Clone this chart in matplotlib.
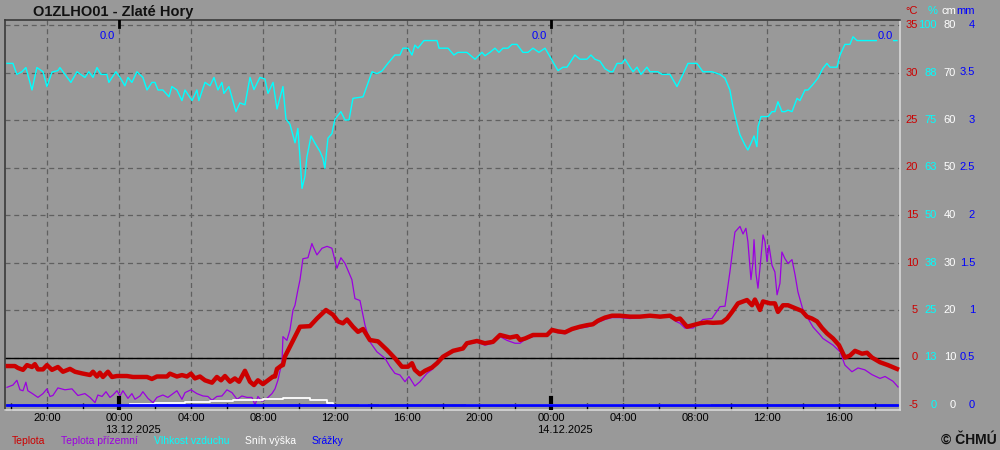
import numpy as np
import pandas as pd
import matplotlib
matplotlib.use("Agg")
import matplotlib.pyplot as plt
import matplotlib.dates as mdates
from matplotlib.lines import Line2D
from matplotlib.transforms import blended_transform_factory

plt.rcParams['font.family'] = ['Liberation Sans', 'DejaVu Sans']

# station / time frame
station = "O1ZLHO01 - Zlaté Hory"
t0 = pd.Timestamp("2025-12-13 00:00")
day_starts = ["2025-12-13", "2025-12-14"]

# (hours from 13.12.2025 00:00, value)
temp_pts = [
    (-6.17, -0.9), (-5.78, -0.9), (-5.61, -1.1), (-5.33, -1.3), (-5.11, -0.8), (-4.83, -1.0),
    (-4.67, -0.7), (-4.5, -1.25), (-4.22, -1.25), (-4.0, -0.8), (-3.72, -1.3), (-3.39, -1.0),
    (-3.11, -1.5), (-2.72, -1.2), (-2.44, -1.5), (-2.06, -1.67), (-1.61, -1.84), (-1.44, -1.5),
    (-1.22, -2.0), (-1.06, -1.6), (-0.89, -2.05), (-0.61, -1.5), (-0.39, -2.05), (-0.11, -1.95),
    (0.44, -1.95), (0.78, -2.05), (1.56, -2.05), (1.83, -2.26), (2.11, -2.0), (2.67, -2.0),
    (2.83, -1.7), (3.22, -2.0), (3.5, -1.85), (3.78, -2.0), (4.0, -1.7), (4.22, -2.2),
    (4.5, -2.0), (4.78, -2.4), (5.17, -2.65), (5.44, -2.05), (5.67, -2.4), (5.89, -1.95),
    (6.17, -2.55), (6.44, -2.2), (6.67, -2.55), (7.0, -1.4), (7.28, -2.55), (7.5, -2.9),
    (7.72, -2.4), (8.0, -2.8), (8.28, -2.4), (8.56, -2.0), (8.67, -2.0), (8.78, -1.2),
    (9.06, -0.8), (9.11, -0.8), (9.22, 0.1), (9.5, 1.14), (9.78, 2.2), (10.06, 3.24),
    (10.61, 3.3), (11.0, 4.1), (11.5, 5.0), (11.89, 4.5), (12.17, 3.8), (12.44, 3.6),
    (12.67, 4.0), (13.0, 3.24), (13.28, 2.7), (13.56, 3.0), (13.94, 1.84), (14.39, 1.7),
    (14.89, 0.8), (15.33, -0.08), (15.72, -0.97), (16.06, -0.97), (16.28, -0.6), (16.44, -1.3),
    (16.72, -1.77), (17.0, -1.4), (17.39, -1.05), (17.67, -0.6), (18.0, 0.08), (18.56, 0.7),
    (19.11, 0.95), (19.33, 1.5), (19.89, 1.74), (20.33, 1.5), (20.78, 1.65), (21.17, 2.37),
    (21.72, 2.1), (22.11, 2.25), (22.28, 1.85), (22.56, 2.0), (23.0, 2.37), (23.78, 2.37),
    (24.06, 2.9), (24.39, 2.75), (24.78, 2.65), (25.17, 3.0), (25.61, 3.24), (26.0, 3.4),
    (26.33, 3.5), (26.61, 3.87), (27.0, 4.2), (27.39, 4.4), (27.83, 4.4), (28.39, 4.3),
    (28.94, 4.3), (29.5, 4.4), (30.06, 4.3), (30.61, 4.4), (30.94, 4.0), (31.17, 4.1),
    (31.56, 3.24), (31.89, 3.4), (32.28, 3.6), (32.67, 3.7), (33.0, 3.65), (33.5, 3.7),
    (33.78, 4.1), (34.06, 4.8), (34.39, 5.7), (34.89, 6.05), (35.17, 5.5), (35.33, 6.1),
    (35.61, 5.0), (35.78, 5.9), (36.17, 5.7), (36.44, 5.7), (36.61, 4.8), (36.89, 5.5),
    (37.17, 5.5), (37.56, 5.2), (37.94, 4.9), (38.22, 4.3), (38.5, 4.1), (38.78, 3.8),
    (39.06, 3.1), (39.33, 2.55), (39.67, 2.0), (40.0, 1.3), (40.33, 0.0), (40.61, 0.2),
    (40.89, 0.7), (41.28, 0.4), (41.56, 0.5), (41.83, 0.0), (42.28, -0.5), (42.72, -0.8),
    (43.22, -1.2),
]

ground_pts = [
    (-6.22, -3.14), (-5.89, -2.9), (-5.67, -2.4), (-5.5, -3.4), (-5.33, -3.5), (-5.17, -2.6),
    (-5.06, -3.5), (-4.83, -3.77), (-4.5, -4.2), (-4.22, -3.8), (-4.0, -3.3), (-3.83, -4.1),
    (-3.67, -4.0), (-3.39, -3.2), (-3.0, -3.4), (-2.61, -3.3), (-2.28, -4.0), (-1.89, -3.8),
    (-1.61, -4.2), (-1.33, -4.75), (-1.17, -3.95), (-0.94, -4.1), (-0.72, -3.6), (-0.5, -4.2),
    (-0.33, -3.95), (-0.11, -3.5), (0.06, -4.05), (0.22, -3.5), (0.5, -4.3), (0.72, -3.8),
    (0.89, -4.4), (1.17, -4.05), (1.33, -3.6), (1.61, -4.3), (1.89, -4.75), (2.11, -4.2),
    (2.44, -3.95), (2.72, -4.2), (3.0, -3.8), (3.22, -3.5), (3.5, -4.4), (3.67, -3.7),
    (4.0, -3.4), (4.33, -3.8), (4.67, -4.05), (4.94, -4.1), (5.17, -4.5), (5.44, -4.1),
    (5.72, -4.05), (6.0, -3.4), (6.28, -3.7), (6.56, -4.4), (6.83, -4.05), (7.11, -4.2),
    (7.39, -4.2), (7.56, -5.0), (7.72, -4.1), (7.94, -4.6), (8.22, -4.3), (8.5, -3.8),
    (8.67, -3.3), (8.83, -2.4), (9.06, -0.45), (9.11, 2.2), (9.33, 1.8), (9.5, 2.9),
    (9.67, 5.0), (9.78, 5.5), (9.94, 7.1), (10.06, 8.2), (10.22, 10.4), (10.5, 10.5),
    (10.72, 12.0), (10.78, 11.7), (11.0, 10.8), (11.28, 11.5), (11.56, 11.7), (11.83, 11.5),
    (12.11, 9.4), (12.33, 10.5), (12.56, 9.9), (12.83, 8.7), (12.94, 8.2), (13.11, 6.2),
    (13.39, 6.0), (13.67, 3.4), (13.94, 1.65), (14.33, 0.6), (14.78, -0.08), (15.06, -0.97),
    (15.33, -1.67), (15.61, -1.84), (15.89, -2.55), (16.11, -2.0), (16.44, -3.0), (16.72, -2.55),
    (17.11, -1.67), (17.44, -1.2), (17.83, -0.08), (18.56, 0.6), (19.11, 0.9), (19.33, 1.4),
    (19.89, 1.6), (20.33, 1.3), (20.78, 1.5), (21.17, 2.2), (21.56, 1.8), (22.0, 1.5),
    (22.28, 1.5), (22.56, 1.9), (23.0, 2.2), (23.78, 2.3), (24.06, 2.8), (24.39, 2.6),
    (24.78, 2.5), (25.17, 2.9), (25.61, 3.1), (26.0, 3.2), (26.33, 3.4), (26.61, 3.7),
    (27.0, 4.0), (27.39, 4.2), (27.83, 4.2), (28.39, 4.1), (28.94, 4.2), (29.5, 4.3),
    (30.06, 4.2), (30.61, 4.3), (30.94, 3.8), (31.17, 3.6), (31.44, 3.1), (31.89, 3.1),
    (32.44, 4.0), (32.94, 4.1), (33.39, 5.35), (33.67, 5.4), (33.94, 9.0), (34.22, 13.2),
    (34.5, 13.8), (34.67, 13.0), (34.83, 13.6), (34.94, 12.2), (35.11, 8.2), (35.22, 10.0),
    (35.28, 12.4), (35.39, 8.8), (35.5, 7.3), (35.61, 9.4), (35.78, 12.9), (35.89, 12.2),
    (36.0, 10.1), (36.11, 11.8), (36.28, 9.7), (36.44, 9.0), (36.56, 6.6), (36.72, 7.8),
    (36.83, 11.1), (37.0, 10.4), (37.17, 9.9), (37.39, 10.3), (37.56, 8.7), (37.72, 6.9),
    (38.0, 5.0), (38.28, 4.1), (38.56, 3.2), (38.94, 2.4), (39.11, 2.0), (39.67, 1.3),
    (40.06, 0.6), (40.33, -0.8), (40.72, -1.5), (41.06, -1.1), (41.44, -1.3), (41.83, -1.8),
    (42.28, -2.2), (42.56, -2.0), (43.0, -2.5), (43.28, -3.1),
]

humidity_pts = [
    (-6.22, 89.9), (-5.89, 89.9), (-5.67, 87.0), (-5.39, 87.7), (-5.17, 88.8), (-4.83, 82.9),
    (-4.56, 88.8), (-4.22, 87.7), (-4.0, 83.8), (-3.72, 87.6), (-3.39, 88.0), (-3.28, 88.8),
    (-3.0, 87.0), (-2.67, 84.9), (-2.33, 87.7), (-1.89, 86.2), (-1.67, 87.7), (-1.44, 86.2),
    (-1.22, 88.8), (-1.0, 87.0), (-0.67, 87.0), (-0.56, 84.9), (-0.17, 87.7), (0.06, 86.2),
    (0.33, 84.0), (0.5, 86.2), (0.72, 84.9), (1.0, 87.7), (1.33, 86.2), (1.56, 82.9),
    (1.83, 84.9), (2.0, 84.9), (2.17, 82.9), (2.44, 82.9), (2.78, 81.1), (2.94, 83.8),
    (3.22, 82.9), (3.5, 80.1), (3.67, 82.9), (4.06, 80.1), (4.33, 82.9), (4.44, 80.1),
    (4.78, 84.9), (5.06, 84.0), (5.28, 86.2), (5.5, 82.9), (5.72, 84.9), (5.83, 82.0),
    (6.11, 83.8), (6.5, 77.2), (6.72, 79.5), (7.0, 79.0), (7.28, 86.2), (7.5, 83.0),
    (7.83, 86.2), (8.11, 85.8), (8.28, 82.0), (8.56, 84.9), (8.78, 77.9), (9.11, 83.8),
    (9.28, 75.2), (9.5, 73.9), (9.78, 69.0), (9.94, 72.8), (10.06, 64.9), (10.17, 57.0),
    (10.33, 60.1), (10.44, 65.2), (10.67, 70.8), (10.89, 68.9), (11.17, 66.7), (11.33, 64.9),
    (11.44, 62.3), (11.61, 70.2), (11.83, 71.4), (12.0, 75.2), (12.33, 77.2), (12.56, 75.0),
    (12.78, 75.0), (13.0, 80.7), (13.56, 81.1), (14.06, 87.7), (14.33, 87.2), (14.61, 87.9),
    (14.94, 89.9), (15.33, 92.1), (15.61, 92.1), (15.78, 93.9), (16.06, 93.9), (16.28, 92.1),
    (16.44, 94.7), (16.61, 93.9), (16.94, 95.9), (17.67, 95.9), (17.78, 93.9), (18.28, 93.9),
    (18.61, 92.1), (18.83, 92.8), (19.33, 92.8), (19.78, 91.0), (20.17, 92.8), (20.33, 91.9),
    (20.61, 92.8), (20.89, 93.9), (21.11, 92.8), (21.33, 93.9), (21.61, 93.9), (21.83, 94.9),
    (22.11, 94.9), (22.44, 92.8), (22.72, 92.8), (23.0, 93.9), (23.33, 92.8), (23.67, 93.9),
    (23.94, 91.7), (24.39, 88.0), (24.67, 88.9), (24.89, 88.9), (25.33, 92.1), (25.61, 91.0),
    (26.0, 91.0), (26.22, 92.1), (26.44, 91.0), (26.72, 90.5), (27.0, 88.5), (27.28, 87.7),
    (27.44, 87.7), (27.67, 89.9), (27.94, 89.9), (28.11, 91.0), (28.39, 88.9), (28.56, 87.7),
    (28.78, 88.9), (29.0, 87.0), (29.33, 88.9), (29.5, 87.7), (29.94, 87.7), (30.17, 87.0),
    (30.61, 87.0), (31.0, 83.8), (31.33, 87.0), (31.61, 89.9), (32.11, 89.9), (32.44, 87.7),
    (32.94, 87.7), (33.39, 87.0), (33.67, 86.0), (33.94, 82.9), (34.11, 78.5), (34.33, 74.1),
    (34.5, 71.1), (34.78, 68.4), (34.94, 67.1), (35.17, 69.5), (35.28, 70.8), (35.44, 68.0),
    (35.5, 73.2), (35.67, 75.9), (36.06, 75.9), (36.28, 77.2), (36.44, 77.2), (36.61, 79.8),
    (36.83, 77.2), (37.0, 77.2), (37.17, 77.6), (37.39, 77.2), (37.67, 80.7), (37.83, 80.1),
    (38.11, 82.9), (38.28, 82.9), (38.56, 84.4), (38.83, 86.0), (39.11, 88.6), (39.33, 89.9),
    (39.5, 88.9), (39.89, 88.9), (40.06, 92.1), (40.33, 94.9), (40.61, 94.9), (40.78, 96.9),
    (41.0, 95.9), (43.22, 95.9),
]

# snow depth (cm), nan = no value
snow_pts = [
    (0.61, 0.2), (2.0, 0.4), (3.67, 0.6), (5.06, 0.8), (6.33, 1.0), (8.0, 1.3), (9.11, 1.4),
    (10.61, 1.0), (11.56, 0.5), (11.89, 0.0), (12.0, np.nan), (13.39, 0.0), (13.67, 0.0),
    (13.8, np.nan), (14.5, 0.0), (14.94, 0.0), (15.0, np.nan), (19.33, 0.0), (32.83, 0.0),
]

# precipitation (mm) and daily sums
precip_pts = [(-6.22, 0.0), (43.22, 0.0)]
sum_end_h = [0.0, 24.0, 43.22]
sum_mm = [0.0, 0.0, 0.0]

# right-hand scales
temp_ticks = [-5, 0, 5, 10, 15, 20, 25, 30, 35]
hum_ticks = [0, 12.5, 25, 37.5, 50, 62.5, 75, 87.5, 100]
hum_labels = ["0", "13", "25", "38", "50", "63", "75", "88", "100"]
snow_ticks = [0, 10, 20, 30, 40, 50, 60, 70, 80]
precip_ticks = [0, 0.5, 1, 1.5, 2, 2.5, 3, 3.5, 4]
precip_labels = ["0", "0.5", "1", "1.5", "2", "2.5", "3", "3.5", "4"]

legend_names = ["Teplota", "Teplota přízemní", "Vlhkost vzduchu", "Sníh výška", "Srážky"]
RED, PURPLE, CYAN, WHITE, BLUE = "#cc0000", "#9b00e0", "#00ffff", "#ffffff", "#0000ff"
legend_colors = [RED, PURPLE, CYAN, WHITE, BLUE]
BG = "#999999"
FS = 8


def ts(hours):
    return t0 + pd.to_timedelta(np.asarray(hours, dtype=float), unit="h")


def lims(lo, hi, m=5 / 380):
    return lo - m * (hi - lo), hi + m * (hi - lo)


fig = plt.figure(figsize=(10, 4.5), dpi=100, facecolor=BG)
ax = fig.add_axes([0.005, 1 - 410 / 450, 0.895, 390 / 450], facecolor=BG)
ax.set_ylim(*lims(-5, 35))
ax.set_xlim(ts(-6.33), ts(43.39))

ax_h = ax.twinx()
ax_h.set_ylim(*lims(0, 100))
ax_s = ax.twinx()
ax_s.set_ylim(*lims(0, 80))
ax_p = ax.twinx()
ax_p.set_ylim(*lims(0, 4))
for a in (ax_h, ax_s, ax_p):
    a.axis("off")

# grid and axes
ax.set_axisbelow(True)
ax.set_yticks(temp_ticks)
ax.tick_params(axis="y", left=False, labelleft=False)
ax.xaxis.set_major_locator(mdates.HourLocator(byhour=range(0, 24, 4)))
ax.xaxis.set_minor_locator(mdates.HourLocator(byhour=range(2, 24, 4)))
ax.xaxis.set_major_formatter(mdates.DateFormatter("%H:%M"))
ax.tick_params(axis="x", which="both", direction="in", length=5, width=1,
               color="black", labelsize=FS, pad=2.5)
ax.grid(True, which="major", color="#606060", linestyle=(0, (4, 3)), linewidth=0.9)
ax.axhline(0, color="black", lw=1, zorder=1.5)

for side in ("left", "top"):
    ax.spines[side].set_color("#3a3a3a")
    ax.spines[side].set_linewidth(1.2)
for side in ("right", "bottom"):
    ax.spines[side].set_color("#d8d8d8")
    ax.spines[side].set_linewidth(1.2)

# series
gh, gv = zip(*ground_pts)
ax.plot(ts(gh), gv, color=PURPLE, lw=0.9, zorder=2)
th, tv = zip(*temp_pts)
ax.plot(ts(th), tv, color=RED, lw=3.2, zorder=3)
sh, sv = zip(*snow_pts)
ax_s.plot(ts(sh), sv, color=WHITE, lw=1.3, drawstyle="steps-post")
ph, pv = zip(*precip_pts)
ax_p.plot(ts(ph), pv, color=BLUE, lw=2)
hh, hv = zip(*humidity_pts)
ax_h.plot(ts(hh), hv, color=CYAN, lw=1)

# daily precipitation sums
for h, v in zip(sum_end_h, sum_mm):
    ax_p.annotate(f"{v:.1f}", xy=(ts(h), 1), xycoords=("data", "axes fraction"),
                  xytext=(-3, -11.5), textcoords="offset points", ha="right", va="center",
                  fontsize=FS, color=BLUE,
                  bbox=dict(boxstyle="square,pad=0.05", fc=BG, ec="none"))

# midnight markers and dates
for d in day_starts:
    t = pd.Timestamp(d)
    ax.axvline(t, ymin=0, ymax=0.03, color="black", lw=3, zorder=4)
    ax.axvline(t, ymin=0.982, ymax=1, color="black", lw=2, zorder=4)
    ax.annotate(t.strftime("%d.%m.%Y"), xy=(t, 0), xycoords=("data", "axes fraction"),
                xytext=(-10, -10.5), textcoords="offset points", ha="left", va="top",
                fontsize=FS)

# right-hand value columns
cols = [
    (0.918, "°C", RED, ax, temp_ticks, [str(v) for v in temp_ticks]),
    (0.937, "%", CYAN, ax_h, hum_ticks, hum_labels),
    (0.956, "cm", WHITE, ax_s, snow_ticks, [str(v) for v in snow_ticks]),
    (0.975, "mm", BLUE, ax_p, precip_ticks, precip_labels),
]
for x, unit, color, a, ticks, labels in cols:
    fig.text(x, 1 - 11 / 450, unit, ha="right", va="center", fontsize=FS, color=color)
    tr = blended_transform_factory(fig.transFigure, a.transData)
    for v, lab in zip(ticks, labels):
        fig.text(x, v, lab, transform=tr, ha="right", va="center", fontsize=FS, color=color)

fig.text(0.033, 1 - 12 / 450, station, ha="left", va="center", fontsize=10.5,
         fontweight="bold", color="#111111")
fig.text(0.997, 1 - 440 / 450, "© ČHMÚ", ha="right", va="center", fontsize=10,
         fontweight="bold", color="#111111")

handles = [Line2D([], [], color=c) for c in legend_colors]
fig.legend(handles, legend_names, loc="center left", bbox_to_anchor=(0.012, 1 - 441 / 450),
           ncol=5, frameon=False, handlelength=0, handletextpad=0, columnspacing=1.5,
           borderpad=0, borderaxespad=0, fontsize=7.5, labelcolor="linecolor")

fig.savefig("out.png", dpi=100, facecolor=BG)
